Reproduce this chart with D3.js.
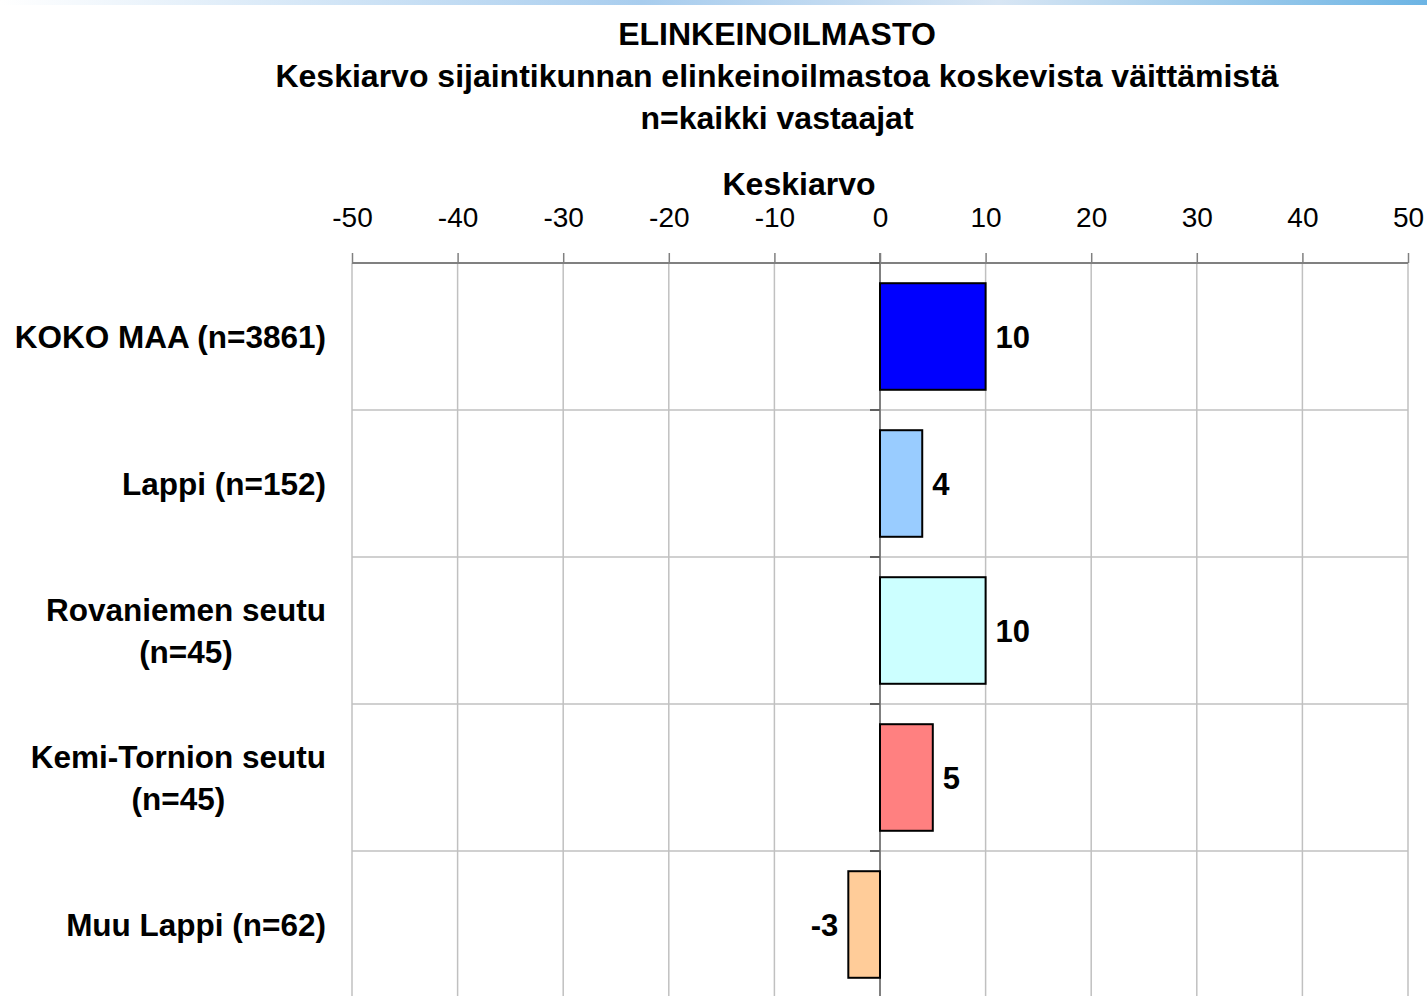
<!DOCTYPE html>
<html>
<head>
<meta charset="utf-8">
<script src="https://cdn.jsdelivr.net/npm/d3@7"></script>
<style>
  body { margin: 0; background: #fff; }
  text { font-family: "Liberation Sans", Arial, sans-serif; }
</style>
</head>
<body>
<div id="chart"></div>
<script>
// chart data
var categories = [["KOKO MAA (n=3861)"], ["Lappi (n=152)"], ["Rovaniemen seutu", "(n=45)"],
                  ["Kemi-Tornion seutu", "(n=45)"], ["Muu Lappi (n=62)"]];
var values = [10, 4, 10, 5, -3];
var colors = ["#0000ff", "#99ccff", "#ccffff", "#ff8080", "#ffcc99"];
var ticks = [-50, -40, -30, -20, -10, 0, 10, 20, 30, 40, 50];
var titles = ["ELINKEINOILMASTO", "Keskiarvo sijaintikunnan elinkeinoilmastoa koskevista väittämistä", "n=kaikki vastaajat"];

var W = 1427, H = 996;
var margin = {top: 263, left: 352, right: 19};
var plotBottom = 998;

var svg = d3.select("#chart").append("svg")
    .attr("width", W)
    .attr("height", H);

// top gradient strip
var grad = svg.append("defs").append("linearGradient").attr("id", "topgrad");
grad.append("stop").attr("offset", "0%").attr("stop-color", "#ffffff");
grad.append("stop").attr("offset", "45%").attr("stop-color", "#a8cdee");
grad.append("stop").attr("offset", "70%").attr("stop-color", "#d8e6f4");
grad.append("stop").attr("offset", "100%").attr("stop-color", "#6cb4e4");
svg.append("rect").attr("x", 0).attr("y", 0).attr("width", W).attr("height", 5)
    .attr("fill", "url(#topgrad)");

var x = d3.scaleLinear().domain([-50, 50]).range([margin.left, W - margin.right]);
var y = d3.scaleBand().domain(d3.range(categories.length))
    .range([margin.top, plotBottom]).paddingInner(0.275).paddingOuter(0.1375);
var band = d3.scaleBand().domain(d3.range(categories.length)).range([margin.top, plotBottom]);

// titles
svg.selectAll(".title").data(titles).enter().append("text")
    .attr("x", 777)
    .attr("y", function(d, i) { return 45 + i * 42; })
    .attr("text-anchor", "middle")
    .style("font-size", "32px")
    .style("font-weight", "bold")
    .text(function(d) { return d; });

// vertical gridlines
svg.selectAll(".vgrid").data(ticks.filter(function(d) { return d !== 0; })).enter().append("line")
    .attr("x1", function(d) { return x(d); }).attr("x2", function(d) { return x(d); })
    .attr("y1", margin.top).attr("y2", plotBottom)
    .attr("stroke", "#c0c0c0").attr("stroke-width", 1.5);

// horizontal gridlines between categories
svg.selectAll(".hgrid").data(d3.range(1, categories.length)).enter().append("line")
    .attr("x1", margin.left).attr("x2", W - margin.right)
    .attr("y1", function(d) { return band(d); }).attr("y2", function(d) { return band(d); })
    .attr("stroke", "#c0c0c0").attr("stroke-width", 1.5);

// top axis
var axis = d3.axisTop(x).tickValues(ticks).tickSize(10).tickPadding(26)
    .tickFormat(function(d) { return String(d); });
var gAxis = svg.append("g")
    .attr("transform", "translate(0," + margin.top + ")")
    .call(axis);
gAxis.select(".domain").attr("stroke", "#808080").attr("stroke-width", 2).attr("d",
    "M" + x(-50) + ",0H" + x(50));
gAxis.selectAll(".tick line").attr("stroke", "#808080").attr("stroke-width", 1.5);
gAxis.selectAll(".tick text")
    .style("font-size", "28px")
    .style("font-family", "'Liberation Sans', Arial, sans-serif")
    .attr("fill", "#000");

// axis title
svg.append("text")
    .attr("x", 799).attr("y", 195)
    .attr("text-anchor", "middle")
    .style("font-size", "32px")
    .style("font-weight", "bold")
    .text("Keskiarvo");

// zero axis with category ticks
svg.append("line")
    .attr("x1", x(0)).attr("x2", x(0))
    .attr("y1", margin.top - 10).attr("y2", plotBottom)
    .attr("stroke", "#808080").attr("stroke-width", 2);
svg.selectAll(".ctick").data(d3.range(0, categories.length + 1)).enter().append("line")
    .attr("x1", x(0) - 10).attr("x2", x(0))
    .attr("y1", function(d) { return band.step() * d + margin.top; })
    .attr("y2", function(d) { return band.step() * d + margin.top; })
    .attr("stroke", "#606060").attr("stroke-width", 2);

// bars
svg.selectAll(".bar").data(values).enter().append("rect")
    .attr("x", function(d) { return x(Math.min(0, d)); })
    .attr("width", function(d) { return Math.abs(x(d) - x(0)); })
    .attr("y", function(d, i) { return y(i); })
    .attr("height", y.bandwidth())
    .attr("fill", function(d, i) { return colors[i]; })
    .attr("stroke", "#000").attr("stroke-width", 2);

// value labels
svg.selectAll(".val").data(values).enter().append("text")
    .attr("x", function(d) { return d >= 0 ? x(d) + 10 : x(d) - 10; })
    .attr("y", function(d, i) { return y(i) + y.bandwidth() / 2 + 11; })
    .attr("text-anchor", function(d) { return d >= 0 ? "start" : "end"; })
    .style("font-size", "31px")
    .style("font-weight", "bold")
    .text(function(d) { return d; });

// category labels (multi-line blocks centered, block right-aligned)
var labelRight = 326;
categories.forEach(function(lines, i) {
    var cy = band(i) + band.bandwidth() / 2;
    var g = svg.append("g");
    var texts = g.selectAll("text").data(lines).enter().append("text")
        .attr("y", function(d, j) { return cy + 11 + (j - (lines.length - 1) / 2) * 42; })
        .attr("text-anchor", "middle")
        .style("font-size", "31.5px")
        .style("font-weight", "bold")
        .text(function(d) { return d; });
    var maxW = d3.max(texts.nodes(), function(n) { return n.getComputedTextLength(); });
    texts.attr("x", labelRight - maxW / 2);
});
</script>
</body>
</html>
